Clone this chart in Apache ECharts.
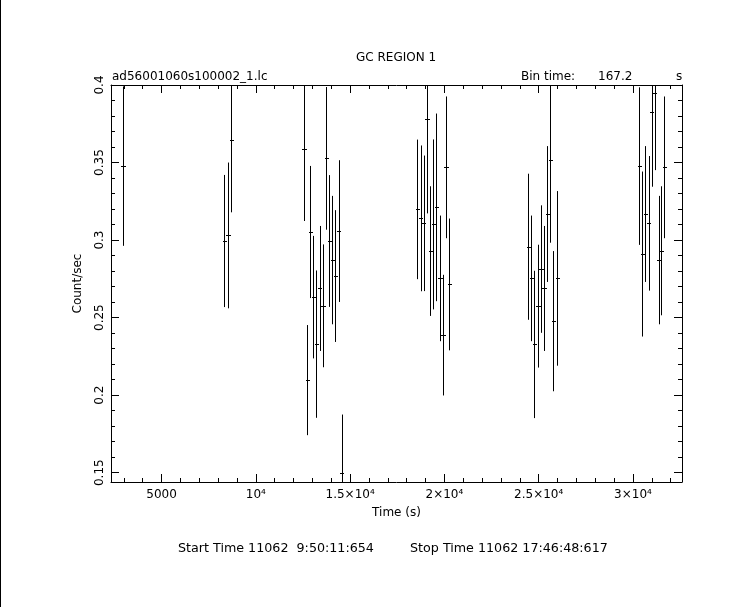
<!DOCTYPE html>
<html><head><meta charset="utf-8">
<script src="https://cdn.jsdelivr.net/npm/echarts@6/dist/echarts.min.js"></script>
<style>html,body{margin:0;padding:0;background:#fff}#c{width:743px;height:607px}</style>
</head><body><div id="c"></div>
<script>
// ---- data ----
const times = [2958, 8329, 8526, 8701,
  12555, 12732, 12891, 13050, 13209, 13386, 13563, 13739, 13898, 14057, 14217, 14394, 14553,
  18563, 18743, 18902, 19077, 19252, 19411, 19570, 19766, 19925, 20084, 20259,
  24448, 24607, 24766, 24962, 25121, 25280, 25455, 25614, 25773, 25985,
  30333, 30492, 30651, 30831, 30990, 31149, 31362, 31499, 31658];
const rates = [0.3477, 0.2994, 0.3030, 0.3643,
  0.3587, 0.2097, 0.3052, 0.2632, 0.2329, 0.2688, 0.2576, 0.3527, 0.2994, 0.2871, 0.2768, 0.3058, 0.1501,
  0.3198, 0.3140, 0.3108, 0.3781, 0.2929, 0.3101, 0.3211, 0.2753, 0.2387, 0.3469, 0.2714,
  0.2957, 0.2753, 0.2327, 0.2574, 0.2813, 0.2688, 0.3168, 0.3516, 0.2477, 0.2753,
  0.3477, 0.2910, 0.3168, 0.3108, 0.3824, 0.3946, 0.2871, 0.2931, 0.3469];
const errors = [0.0514, 0.0426, 0.0470, 0.0464,
  0.0464, 0.0355, 0.0426, 0.0395, 0.0475, 0.0403, 0.0396, 0.0460, 0.0425, 0.0414, 0.0425, 0.0457, 0.0374,
  0.0450, 0.0470, 0.0437, 0.0609, 0.0418, 0.0548, 0.0605, 0.0405, 0.0389, 0.0457, 0.0425,
  0.0471, 0.0405, 0.0475, 0.0396, 0.0411, 0.0403, 0.0438, 0.0533, 0.0452, 0.0563,
  0.0508, 0.0532, 0.0438, 0.0434, 0.0480, 0.0495, 0.0414, 0.0416, 0.0457];
const binTime = 167.2;

const xMajorTicks = [5000, 10000, 15000, 20000, 25000, 30000];
const xTickLabels = ['5000', '10⁴', '1.5×10⁴', '2×10⁴', '2.5×10⁴', '3×10⁴'];
const xMinorTicks = [3000,4000,5000,6000,7000,8000,9000,10000,11000,12000,13000,14000,15000,16000,17000,18000,19000,20000,21000,22000,23000,24000,25000,26000,27000,28000,29000,30000,31000,32000];
const yMajorTicks = [0.15, 0.2, 0.25, 0.3, 0.35, 0.4];
const yTickLabels = ['0.15', '0.2', '0.25', '0.3', '0.35', '0.4'];
const yMinorTicks = [0.15,0.16,0.17,0.18,0.19,0.2,0.21,0.22,0.23,0.24,0.25,0.26,0.27,0.28,0.29,0.3,0.31,0.32,0.33,0.34,0.35,0.36,0.37,0.38,0.39,0.4];
const xRange = [2320, 32600];
const yRange = [0.144, 0.4];

const titleText = 'GC REGION 1';
const fileText = 'ad56001060s100002_1.lc';
const startText = 'Start Time 11062  9:50:11:654';
const stopText = 'Stop Time 11062 17:46:48:617';

// ---- chart ----
const FONT = 'DejaVu Sans';
const chart = echarts.init(document.getElementById('c'), null, {renderer: 'canvas'});
const lineStyle = {color: '#000', width: 1};
function xAx(pos, ticks, len, extra) {
  return Object.assign({
    type: 'value', position: pos, min: xRange[0], max: xRange[1],
    axisLine: {show: false}, splitLine: {show: false},
    axisTick: {show: true, inside: true, length: len, customValues: ticks, lineStyle: lineStyle},
    axisLabel: {show: false}
  }, extra || {});
}
function yAx(pos, ticks, len, extra) {
  return Object.assign({
    type: 'value', position: pos, min: yRange[0], max: yRange[1],
    axisLine: {show: false}, splitLine: {show: false},
    axisTick: {show: true, inside: true, length: len, customValues: ticks, lineStyle: lineStyle},
    axisLabel: {show: false}
  }, extra || {});
}
const txt = {fontFamily: FONT, fontSize: 12, color: '#000', fontWeight: 'normal'};
const txtWide = {fontFamily: FONT, fontSize: 12.7, color: '#000', fontWeight: 'normal'};

const option = {
  backgroundColor: '#fff',
  animation: false,
  grid: {left: 111, right: 61, top: 85, bottom: 125, containLabel: false},
  title: [
    {text: titleText, left: 356, top: 52, textStyle: txt, padding: 0},
    {text: fileText, left: 112, top: 71, textStyle: txt, padding: 0},
    {text: 'Bin time:', left: 521, top: 71, textStyle: txt, padding: 0},
    {text: String(binTime), left: 598, top: 71, textStyle: txt, padding: 0},
    {text: 's', left: 676, top: 71, textStyle: txt, padding: 0},
    {text: startText, left: 178, top: 542, textStyle: txtWide, padding: 0},
    {text: stopText, left: 410, top: 542, textStyle: txtWide, padding: 0}
  ],
  graphic: [{type: 'rect', shape: {x: 0, y: 0, width: 1, height: 607}, style: {fill: '#000'}}],
  xAxis: [
    xAx('bottom', xMajorTicks, 8, {
      axisLine: {show: true, lineStyle: lineStyle},
      name: 'Time (s)', nameLocation: 'middle', nameGap: 25, nameTextStyle: txt,
      axisLabel: {show: true, margin: 7, fontFamily: FONT, fontSize: 12, color: '#000',
        customValues: xMajorTicks,
        formatter: function (v) { const i = xMajorTicks.indexOf(v); return i >= 0 ? xTickLabels[i] : ''; }}
    }),
    xAx('bottom', xMinorTicks, 4),
    xAx('top', xMajorTicks, 8, {axisLine: {show: true, lineStyle: lineStyle}}),
    xAx('top', xMinorTicks, 4)
  ],
  yAxis: [
    yAx('left', yMajorTicks, 8, {
      axisLine: {show: true, lineStyle: lineStyle},
      name: 'Count/sec', nameLocation: 'middle', nameGap: 27, nameRotate: 90, nameTextStyle: txt,
      axisLabel: {show: true, rotate: 90, margin: 5, fontFamily: FONT, fontSize: 12, color: '#000',
        customValues: yMajorTicks,
        formatter: function (v) { let best = 0; yMajorTicks.forEach((t, i) => { if (Math.abs(t - v) < Math.abs(yMajorTicks[best] - v)) best = i; }); return yTickLabels[best]; }}
    }),
    yAx('left', yMinorTicks, 4),
    yAx('right', yMajorTicks, 8, {axisLine: {show: true, lineStyle: lineStyle}}),
    yAx('right', yMinorTicks, 4)
  ],
  series: [{
    type: 'custom', xAxisIndex: 0, yAxisIndex: 0, clip: true,
    data: times.map((t, i) => [t, rates[i], errors[i]]),
    renderItem: function (params, api) {
      const t = api.value(0), v = api.value(1), e = api.value(2);
      const c = api.coord([t, v]);
      const top = api.coord([t, v + e]);
      const bot = api.coord([t, v - e]);
      const l = api.coord([t - binTime / 2, v]);
      const r = api.coord([t + binTime / 2, v]);
      const cx = Math.round(c[0]) + 0.5, cy = Math.round(c[1]) + 0.5;
      return {type: 'group', children: [
        {type: 'line', shape: {x1: cx, y1: top[1], x2: cx, y2: bot[1]}, style: {stroke: '#000', lineWidth: 1}},
        {type: 'line', shape: {x1: Math.round(l[0]), y1: cy, x2: Math.round(r[0]) + 1, y2: cy}, style: {stroke: '#000', lineWidth: 1}}
      ]};
    }
  }]
};
chart.setOption(option);
</script>
</body></html>
